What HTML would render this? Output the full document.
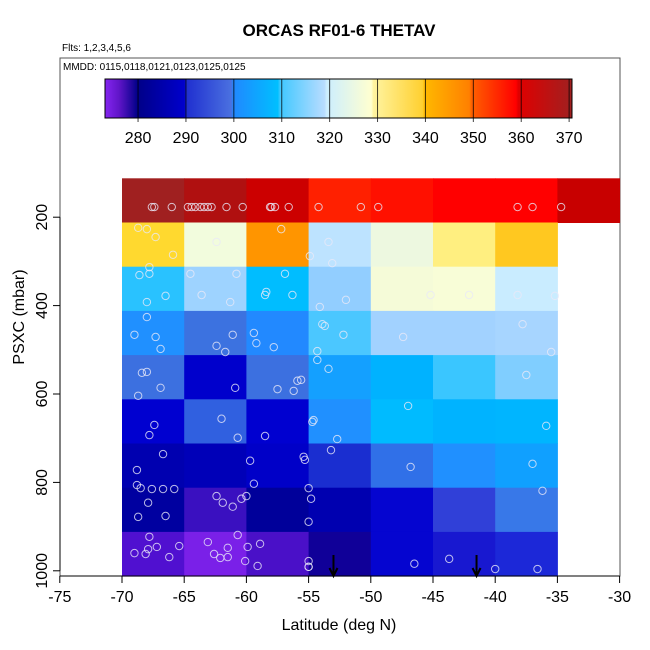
<!DOCTYPE html>
<html><head><meta charset="utf-8"><style>
body{margin:0;background:#fff}
svg{display:block;font-family:"Liberation Sans",sans-serif}
</style></head><body>
<svg id="chart" width="650" height="650" viewBox="0 0 650 650">
<defs>
<linearGradient id="cbg" x1="0" x2="1" y1="0" y2="0">
<stop offset="0" stop-color="#8525f0"/><stop offset="0.03" stop-color="#6015c8"/>
<stop offset="0.07" stop-color="#000088"/><stop offset="0.17" stop-color="#0000cc"/>
<stop offset="0.175" stop-color="#2030d0"/><stop offset="0.27" stop-color="#4a70e0"/>
<stop offset="0.275" stop-color="#2088ff"/><stop offset="0.37" stop-color="#00bfff"/>
<stop offset="0.375" stop-color="#40c8ff"/><stop offset="0.47" stop-color="#b8dcff"/>
<stop offset="0.475" stop-color="#cceeff"/><stop offset="0.57" stop-color="#ffffd0"/>
<stop offset="0.575" stop-color="#fff4a0"/><stop offset="0.68" stop-color="#ffd030"/>
<stop offset="0.685" stop-color="#ffb800"/><stop offset="0.78" stop-color="#ff8000"/>
<stop offset="0.785" stop-color="#ff6000"/><stop offset="0.88" stop-color="#ff0000"/>
<stop offset="0.885" stop-color="#e00000"/><stop offset="1" stop-color="#a02020"/>
</linearGradient>
</defs>
<text x="339" y="36" text-anchor="middle" font-size="17" font-weight="bold">ORCAS RF01-6 THETAV</text>
<text x="62" y="51" font-size="10">Flts: 1,2,3,4,5,6</text>
<rect x="60" y="58" width="560" height="518" fill="none" stroke="#555" stroke-width="1"/>
<text x="63" y="70" font-size="10">MMDD: 0115,0118,0121,0123,0125,0125</text>
<g id="cells"></g>
<g id="pts"></g>
<g id="cbar"></g>
<g id="axes"></g>
<text x="339" y="630" text-anchor="middle" font-size="16">Latitude (deg N)</text>
<text transform="translate(24,317) rotate(-90)" text-anchor="middle" font-size="16">PSXC (mbar)</text>
</svg>
<script>
const latEdges=[-70,-65,-60,-55,-50,-45,-40,-35,-30];
const presEdges=[112,212,312,412,512,612,712,812,912,1012];
const cellColors=[
["#a02020","#b01010","#cc0000","#ff2000","#ff1000","#ff0000","#ff0000","#c80000"],
["#ffd92f","#f2fcdd","#ff9500","#bde3ff","#edf8e0","#ffef80","#ffc820",null],
["#29c2ff","#9ed3ff","#00bdff","#92ceff","#f5fbd8","#f8fdd7","#c9ecff",null],
["#2090ff","#3c72e0","#2289ff","#4bc7ff","#a2d2ff","#a2d2ff","#a7d5ff",null],
["#3c70e0","#0000cc","#3c70e0","#14a0ff","#00b2ff","#3ac6ff","#80ceff",null],
["#0000d0","#3060e0","#0000d0","#2090ff","#00bbff","#00b3ff","#00b5ff",null],
["#0000b0","#0000b8","#0000c8","#1a2ed0","#3070e8","#2090ff","#10a0ff",null],
["#0000a0","#3a10c0","#00009a","#0000b0","#0505d0","#3040d8","#3878e8",null],
["#5010d0","#7a20e8","#4a10c8","#100098","#0505d0","#1818d0","#1c28d8",null]];
const ptLat=[-67.6,-67.4,-66.0,-64.7,-64.4,-64.1,-63.7,-63.4,-63.1,-62.8,-61.6,-60.3,-58.1,-58.0,-57.7,-56.6,-54.2,-50.8,-49.4,-38.2,-37.0,-34.7,
-68.7,-68.0,-67.3,-65.9,-67.8,-68.6,-67.8,-66.5,-68.0,-68.0,-69.0,-67.3,-66.9,-62.4,-64.5,-60.8,-63.6,-61.3,-61.1,-62.4,-61.7,-57.2,-56.9,-58.4,-58.5,-56.3,-59.4,-59.2,-57.8,
-53.4,-54.9,-53.1,-54.1,-52.0,-53.9,-53.7,-52.2,-54.3,-54.3,-53.4,-45.2,-42.1,-38.2,-35.2,-47.4,-37.8,-35.5,
-68.4,-68.0,-66.9,-68.7,-60.9,-57.5,-56.2,-55.9,-55.6,-67.4,-67.8,-62.0,-60.7,-58.5,-54.7,-54.6,-52.7,-53.2,-66.7,-68.8,-68.8,-68.5,-67.6,-66.7,-65.8,-67.9,-68.7,-66.5,
-59.7,-55.4,-55.3,-59.4,-55.0,-54.8,-55.0,-62.4,-61.9,-61.1,-60.4,-60.0,-67.8,-69.0,-68.1,-67.9,-67.2,-66.2,-65.4,-63.1,-62.6,-62.1,-61.5,-61.5,-60.7,-59.9,-58.9,-60.1,-59.1,-55.0,-55.0,-55.0,
-37.5,-47.0,-35.9,-46.8,-37.0,-36.2,-46.5,-43.7,-40.0,-36.6];
const ptPres=[177,177,177,177,177,177,177,177,177,177,177,177,177,177,177,177,177,177,177,177,177,177,
224,227,245,285,313,331,328,378,392,426,466,471,498,256,328,328,376,392,466,491,505,227,328,369,376,376,462,485,494,
256,288,304,403,387,442,446,466,503,523,543,376,376,376,378,471,442,505,
552,550,586,604,586,589,593,570,568,670,693,656,699,695,663,659,702,727,736,772,806,813,815,815,815,846,878,876,
751,742,749,803,813,837,889,831,846,855,837,831,923,960,962,951,946,969,944,935,962,971,969,948,919,946,939,978,989,978,991,991,
557,627,672,765,758,819,984,973,996,996];
const arrowLat=[-53.0,-41.5];
const xTicks=[-75,-70,-65,-60,-55,-50,-45,-40,-35,-30];
const yTicks=[200,400,600,800,1000];
const cbTicks=[280,290,300,310,320,330,340,350,360,370];
const cbMin=273.1,cbMax=370.6;

const NS="http://www.w3.org/2000/svg";
const xs=v=>122+(v+70)*12.44;
const ys=p=>173+(p-100)*0.442;
const cbx=v=>105+(v-cbMin)*(467/(cbMax-cbMin));
function mk(tag,attrs,parent){const e=document.createElementNS(NS,tag);for(const k in attrs)e.setAttribute(k,attrs[k]);parent.appendChild(e);return e;}

const cells=document.getElementById('cells');
for(let r=0;r<cellColors.length;r++)for(let c=0;c<cellColors[r].length;c++){
 const col=cellColors[r][c];if(!col)continue;
 const x0=xs(latEdges[c]),x1=xs(latEdges[c+1]),y0=ys(presEdges[r]),y1=ys(presEdges[r+1]);
 const e=mk('rect',{x:x0,y:y0,width:x1-x0+0.5,height:y1-y0+0.5,fill:col},cells);
 
 
}
const pts=document.getElementById('pts');
for(let i=0;i<ptLat.length;i++){
 const e=mk('circle',{cx:xs(ptLat[i]),cy:ys(ptPres[i]),r:3.7,fill:'none',stroke:'#e8e8f8','stroke-opacity':0.8,'stroke-width':1},pts);
 
 
}
for(const a of arrowLat){
 const x=xs(a);
 const g=mk('g',{},pts);
 
 
 mk('line',{x1:x,y1:555,x2:x,y2:576,stroke:'#000','stroke-width':2},g);
 mk('polyline',{points:`${x-4},568 ${x},576 ${x+4},568`,fill:'none',stroke:'#000','stroke-width':2},g);
}
const cb=document.getElementById('cbar');
mk('rect',{x:105,y:79,width:467,height:39,fill:'url(#cbg)',stroke:'#000','stroke-width':1},cb);
for(const t of cbTicks){
 const x=cbx(t);
 mk('line',{x1:x,y1:79,x2:x,y2:122,stroke:'#000','stroke-width':1,'stroke-opacity':0.75},cb);
 const tx=mk('text',{x:x,y:143,'text-anchor':'middle','font-size':16},cb);
 tx.textContent=t;
 
 
}
const ax=document.getElementById('axes');
mk('line',{x1:xs(-75),y1:576,x2:xs(-30),y2:576,stroke:'#000'},ax);
for(const t of xTicks){
 const x=xs(t);
 mk('line',{x1:x,y1:576,x2:x,y2:583,stroke:'#000'},ax);
 const tx=mk('text',{x:x,y:602,'text-anchor':'middle','font-size':16},ax);
 tx.textContent=t;
 
 
}
mk('line',{x1:60,y1:ys(200),x2:60,y2:ys(1000),stroke:'#000'},ax);
for(const t of yTicks){
 const y=ys(t);
 mk('line',{x1:53,y1:y,x2:60,y2:y,stroke:'#000'},ax);
 const tx=mk('text',{transform:`translate(47,${y}) rotate(-90)`,'text-anchor':'middle','font-size':16},ax);
 tx.textContent=t;
 
 
}
</script>
</body></html>
